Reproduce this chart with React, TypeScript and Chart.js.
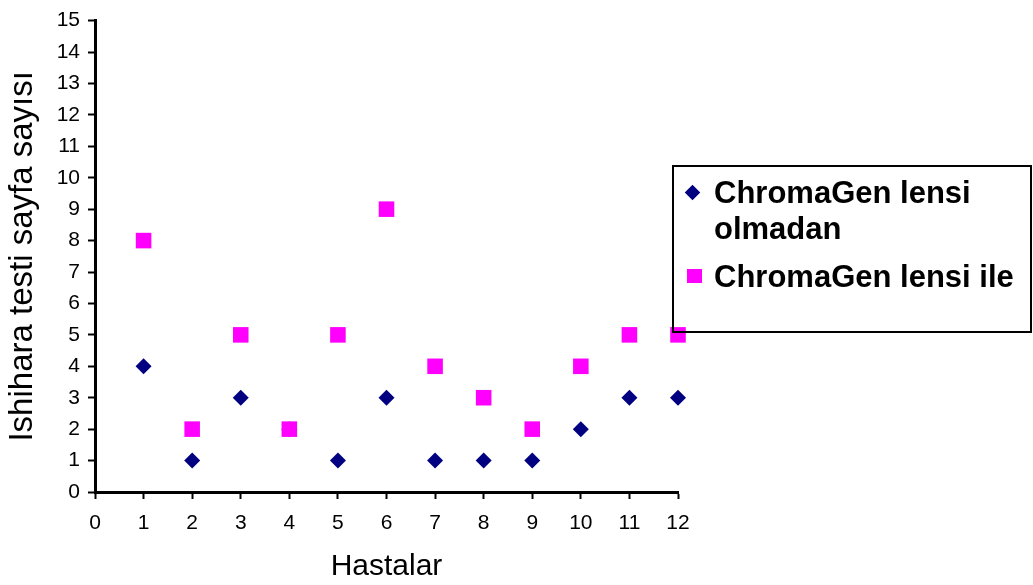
import React, { useEffect, useRef } from "react";
import { Chart, registerables } from "chart.js";

Chart.register(...registerables);

const patients = [1, 2, 3, 4, 5, 6, 7, 8, 9, 10, 11, 12];
const withoutLens = [4, 1, 3, 2, 1, 3, 1, 1, 1, 2, 3, 3];
const withLens = [8, 2, 5, 2, 5, 9, 4, 3, 2, 4, 5, 5];
const seriesNames = ["ChromaGen lensi olmadan", "ChromaGen lensi ile"];
const xTitle = "Hastalar";
const yTitle = "Ishihara testi sayfa sayısı";

const FONT = "Arial, 'Liberation Sans', sans-serif";
const NAVY = "#000080";
const MAGENTA = "#FF00FF";

export default function App() {
  const ref = useRef<HTMLCanvasElement | null>(null);

  useEffect(() => {
    document.body.style.margin = "0";
    const canvas = ref.current;
    if (!canvas) return;
    const chart = new Chart(canvas, {
      type: "scatter",
      data: {
        datasets: [
          {
            label: seriesNames[0],
            data: patients.map((p, i) => ({ x: p, y: withoutLens[i] })),
            pointStyle: "rectRot",
            pointRadius: 8,
            backgroundColor: NAVY,
            borderColor: NAVY,
            borderWidth: 0,
            order: 2,
            clip: false as any,
          },
          {
            label: seriesNames[1],
            data: patients.map((p, i) => ({ x: p, y: withLens[i] })),
            pointStyle: "rect",
            pointRadius: 11,
            backgroundColor: MAGENTA,
            borderColor: MAGENTA,
            borderWidth: 0,
            order: 1,
            clip: false as any,
          },
        ],
      },
      options: {
        responsive: false,
        animation: false,
        devicePixelRatio: 1,
        layout: { padding: { left: 0, top: 15, right: 355, bottom: 0 } },
        plugins: {
          legend: { display: false },
          tooltip: { enabled: false },
        },
        scales: {
          x: {
            type: "linear",
            min: 0,
            max: 12,
            afterFit: (s: any) => {
              s.height = 93;
            },
            ticks: {
              stepSize: 1,
              color: "#000",
              font: { family: FONT, size: 21 },
              padding: 12,
              maxRotation: 0,
            },
            grid: {
              drawOnChartArea: false,
              drawTicks: true,
              tickLength: 7,
              tickColor: "#000",
              tickWidth: 2,
            },
            border: { display: true, color: "#000", width: 3 },
            title: {
              display: true,
              text: xTitle,
              color: "#000",
              font: { family: FONT, size: 30 },
              padding: { top: 0, bottom: 0 },
            },
          },
          y: {
            type: "linear",
            min: 0,
            max: 15,
            afterFit: (s: any) => {
              s.width = 95;
            },
            ticks: {
              stepSize: 1,
              color: "#000",
              font: { family: FONT, size: 21 },
              padding: 8,
            },
            grid: {
              drawOnChartArea: false,
              drawTicks: true,
              tickLength: 7,
              tickColor: "#000",
              tickWidth: 2,
            },
            border: { display: true, color: "#000", width: 3 },
            title: {
              display: true,
              text: yTitle,
              color: "#000",
              font: { family: FONT, size: 33 },
              padding: { top: 3, bottom: 0 },
            },
          },
        },
      },
    });
    return () => chart.destroy();
  }, []);

  const textStyle: React.CSSProperties = {
    position: "absolute",
    left: 40,
    fontFamily: FONT,
    fontWeight: "bold",
    fontSize: 31,
    lineHeight: "36px",
    color: "#000",
    whiteSpace: "nowrap",
  };

  return (
    <div style={{ position: "relative", width: 1033, height: 585 }}>
      <canvas ref={ref} width={1033} height={585} style={{ display: "block", width: 1033, height: 585 }} />
      <div
        style={{
          position: "absolute",
          left: 672,
          top: 165,
          width: 360,
          height: 168,
          boxSizing: "border-box",
          border: "2px solid #000",
        }}
      >
        <div
          style={{
            position: "absolute",
            left: 13,
            top: 20,
            width: 11,
            height: 11,
            background: NAVY,
            transform: "rotate(45deg)",
          }}
        />
        <div style={{ ...textStyle, top: 8 }}>
          ChromaGen lensi
          <br />
          olmadan
        </div>
        <div
          style={{
            position: "absolute",
            left: 13,
            top: 102,
            width: 15,
            height: 14,
            background: MAGENTA,
          }}
        />
        <div style={{ ...textStyle, top: 92 }}>{seriesNames[1]}</div>
      </div>
    </div>
  );
}
